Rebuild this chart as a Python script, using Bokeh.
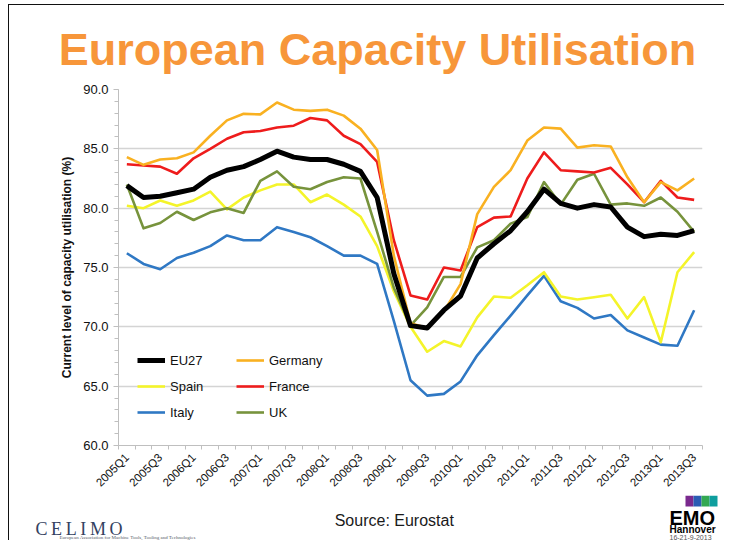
import math
from bokeh.plotting import figure
from bokeh.layouts import column
from bokeh.models import (Range1d, FixedTicker, NumeralTickFormatter, Legend, LegendItem)
from bokeh.core.properties import value
from bokeh.embed import file_html
from bokeh.resources import INLINE

quarters = ["2005Q1", "2005Q2", "2005Q3", "2005Q4", "2006Q1", "2006Q2", "2006Q3", "2006Q4",
            "2007Q1", "2007Q2", "2007Q3", "2007Q4", "2008Q1", "2008Q2", "2008Q3", "2008Q4",
            "2009Q1", "2009Q2", "2009Q3", "2009Q4", "2010Q1", "2010Q2", "2010Q3", "2010Q4",
            "2011Q1", "2011Q2", "2011Q3", "2011Q4", "2012Q1", "2012Q2", "2012Q3", "2012Q4",
            "2013Q1", "2013Q2", "2013Q3"]

eu27 = [81.9, 80.9, 81.0, 81.3, 81.6, 82.6, 83.2, 83.5, 84.1, 84.8, 84.3, 84.1, 84.1, 83.7,
        83.1, 80.9, 74.5, 70.1, 69.9, 71.4, 72.6, 75.8, 77.0, 78.1, 79.7, 81.6, 80.4, 80.0,
        80.3, 80.1, 78.4, 77.6, 77.8, 77.7, 78.1]
germany = [84.3, 83.65, 84.1, 84.2, 84.7, 86.1, 87.4, 87.95, 87.9, 88.9, 88.3, 88.2, 88.3, 87.8,
           86.7, 84.9, 76.0, 70.3, 69.9, 71.3, 73.6, 79.5, 81.8, 83.2, 85.7, 86.8, 86.7, 85.1,
           85.3, 85.2, 82.6, 80.5, 82.2, 81.5, 82.5]
spain = [80.2, 80.0, 80.65, 80.2, 80.65, 81.4, 79.9, 80.9, 81.5, 82.0, 82.0, 80.5, 81.15, 80.3,
         79.3, 76.8, 73.0, 70.0, 67.9, 68.8, 68.35, 70.8, 72.55, 72.45, 73.5, 74.6, 72.55, 72.3,
         72.5, 72.7, 70.7, 72.5, 68.7, 74.6, 76.3]
france = [83.7, 83.6, 83.5, 82.9, 84.2, 85.0, 85.85, 86.4, 86.5, 86.8, 86.95, 87.6, 87.4, 86.1,
          85.4, 83.9, 77.3, 72.65, 72.3, 75.0, 74.75, 78.4, 79.2, 79.3, 82.5, 84.7, 83.2, 83.1,
          83.0, 83.4, 82.0, 80.5, 82.3, 80.9, 80.7]
italy = [76.2, 75.3, 74.85, 75.8, 76.25, 76.8, 77.7, 77.3, 77.3, 78.4, 78.0, 77.55, 76.8, 76.0,
         76.0, 75.3, 70.5, 65.5, 64.2, 64.35, 65.4, 67.6, 69.3, 70.95, 72.65, 74.3, 72.15, 71.6,
         70.7, 71.0, 69.7, 69.1, 68.5, 68.4, 71.4]
uk = [82.0, 78.3, 78.75, 79.7, 79.0, 79.65, 80.0, 79.6, 82.3, 83.1, 81.8, 81.6, 82.2, 82.6,
      82.5, 78.0, 73.3, 70.1, 71.65, 74.2, 74.2, 76.7, 77.3, 78.7, 79.25, 82.2, 80.3, 82.4,
      82.9, 80.3, 80.4, 80.2, 80.9, 79.7, 78.0]

y_ticks = [60, 65, 70, 75, 80, 85, 90]

xs = list(range(len(quarters)))

FONT = "Liberation Sans"
W = 715


def blank_fig(h):
    f = figure(width=W, height=h, output_backend="svg", toolbar_location=None,
               x_range=Range1d(0, W), y_range=Range1d(h, 0),
               x_axis_type=None, y_axis_type=None, min_border=0, frame_align=False)
    f.outline_line_color = None
    f.grid.visible = False
    return f


# ---- title ----
tf = blank_fig(75)
tf.text(x=[368], y=[44], text=["European Capacity Utilisation"], text_font=value(FONT),
        text_font_style="bold", text_font_size="45px", text_color="#F7963A",
        text_align="center", text_baseline="alphabetic")

# ---- main chart ----
p = figure(width=W, height=415, output_backend="svg", toolbar_location=None,
           x_range=Range1d(-0.5, len(quarters) - 0.5), y_range=Range1d(60, 90),
           min_border_left=109, min_border_right=22, min_border_top=9, min_border_bottom=50,
           frame_align=False)
p.outline_line_color = None

yax = p.yaxis[0]
yax.ticker = FixedTicker(ticks=y_ticks, minor_ticks=list(range(60, 91)))
yax.formatter = NumeralTickFormatter(format="0.0")
yax.axis_line_color = "#BFBFBF"
yax.major_tick_line_color = "#BFBFBF"
yax.minor_tick_line_color = "#BFBFBF"
yax.major_tick_out = 5
yax.major_tick_in = 0
yax.minor_tick_out = 4
yax.minor_tick_in = 0
yax.major_label_text_font = FONT
yax.major_label_text_font_size = "13px"
yax.major_label_text_color = "#111111"
yax.major_label_standoff = 5
yax.axis_label = "Current level of capacity utilisation (%)"
yax.axis_label_text_font = FONT
yax.axis_label_text_font_style = "bold"
yax.axis_label_text_font_size = "12px"
yax.axis_label_text_color = "#111111"
yax.axis_label_standoff = 6

xax = p.xaxis[0]
xax.ticker = FixedTicker(ticks=xs[::2], minor_ticks=[i - 0.5 for i in range(len(quarters) + 1)])
xax.major_label_overrides = {i: quarters[i] for i in xs[::2]}
xax.major_label_orientation = math.pi / 4
xax.major_label_text_font = FONT
xax.major_label_text_font_size = "11.5px"
xax.major_label_text_color = "#111111"
xax.major_label_standoff = 4
xax.axis_line_color = "#BFBFBF"
xax.major_tick_line_color = None
xax.minor_tick_line_color = "#BFBFBF"
xax.minor_tick_out = 4
xax.minor_tick_in = 0

p.xgrid.grid_line_color = None
p.ygrid.grid_line_color = "#D4D4D4"
p.ygrid.grid_line_width = 1.5

series = [
    ("Italy", italy, "#2F78C4", 2.6),
    ("Spain", spain, "#F4F42A", 2.6),
    ("UK", uk, "#77933C", 2.6),
    ("France", france, "#EE1C1C", 2.6),
    ("Germany", germany, "#F9B121", 2.6),
    ("EU27", eu27, "#000000", 5),
]
renderers = {}
for name, vals, col, w in series:
    renderers[name] = p.line(xs, vals, line_color=col, line_width=w, line_join="round")


def make_legend(names, loc):
    lg = Legend(items=[LegendItem(label=n, renderers=[renderers[n]]) for n in names],
                location=loc, orientation="vertical")
    lg.background_fill_alpha = 0
    lg.border_line_color = None
    lg.padding = 0
    lg.margin = 0
    lg.spacing = 6
    lg.glyph_width = 28
    lg.glyph_height = 20
    lg.label_height = 20
    lg.label_standoff = 5
    lg.label_text_font = FONT
    lg.label_text_font_size = "13px"
    lg.label_text_color = "#111111"
    return lg


p.add_layout(make_legend(["EU27", "Spain", "Italy"], (19, 23)), "center")
p.add_layout(make_legend(["Germany", "France", "UK"], (118, 23)), "center")

# ---- footer ----
bf = blank_fig(45)
bf.text(x=[387], y=[25], text=["Source:  Eurostat"], text_font=value(FONT),
        text_font_size="16px", text_color="#1a1a1a", text_align="center",
        text_baseline="alphabetic")
bf.text(x=[26], y=[33], text=["C\u2009E\u2009L\u2009I\u2009M\u2009O"],
        text_font=value("Liberation Serif"), text_font_size="18px", text_color="#33415f",
        text_baseline="alphabetic")
bf.text(x=[50], y=[42], text=["European Association for Machine Tools, Tooling and Technologies"],
        text_font=value("Liberation Serif"), text_font_size="5px", text_color="#555a66",
        text_baseline="alphabetic")
bf.quad(left=[676, 684, 692, 700], right=[684, 692, 700, 708], top=[0, 0, 0, 0],
        bottom=[11, 11, 11, 11], fill_color=["#7A2A8E", "#2B5CB4", "#33A852", "#0E9E9E"],
        line_color=None)
bf.text(x=[660], y=[22], text=["EMO"], text_font=value(FONT), text_font_style="bold",
        text_font_size="20px", text_color="#000000", text_baseline="alphabetic")
bf.text(x=[660], y=[34], text=["Hannover"], text_font=value(FONT), text_font_style="bold",
        text_font_size="10px", text_color="#000000", text_baseline="alphabetic")
bf.text(x=[660], y=[41.5], text=["16-21-9-2013"], text_font=value(FONT),
        text_font_size="7px", text_color="#555555", text_baseline="alphabetic")

root = column(tf, p, bf, spacing=0)
root.styles = {"margin-left": "8px", "margin-top": "4px",
               "border-left": "1px solid #111", "border-top": "1px solid #111"}

open("out.html", "w").write(file_html(root, INLINE))
